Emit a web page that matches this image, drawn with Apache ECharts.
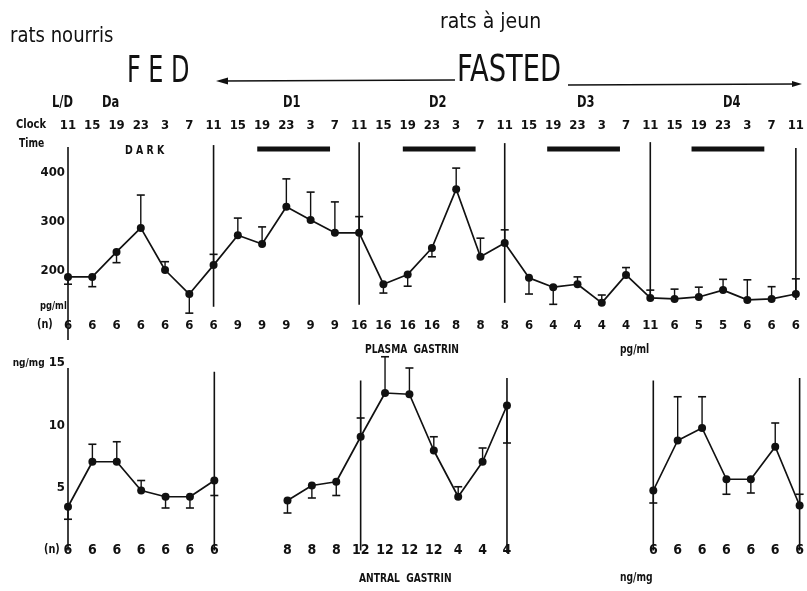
<!DOCTYPE html>
<html>
<head>
<meta charset="utf-8">
<script src="https://cdn.jsdelivr.net/npm/echarts@6/dist/echarts.min.js"></script>
<style>
  html, body { margin: 0; padding: 0; background: #fff; }
  #chart { width: 807px; height: 591px; }
</style>
</head>
<body>
<div id="chart"></div>
<script>
// Sampling clock (hours), every 4 h over the fed day and four fasting days
const clockLabels = ['11','15','19','23','3','7','11','15','19','23','3','7','11','15','19','23','3','7',
                     '11','15','19','23','3','7','11','15','19','23','3','7','11'];

// Plasma gastrin, pg/ml (mean) and one-sided SEM (negative = drawn below the mean)
const plasmaGastrin = [188,188,239,288,202,153,212,273,255,331,304,278,278,173,193,247,367,229,257,
                       186,167,173,135,192,145,143,147,161,141,143,153];
const plasmaSem     = [-15,-20,-22,67,17,-39,22,35,35,57,57,63,33,-18,-24,-18,43,38,27,
                       -33,-35,15,16,15,16,20,20,22,41,25,31];
const plasmaN       = [6,6,6,6,6,6,6,9,9,9,9,9,16,16,16,16,8,8,8,6,4,4,4,4,11,6,5,5,6,6,6];

// Antral gastrin, ng/mg (null = not sampled)
const antralGastrin = [3.5,7.1,7.1,4.8,4.3,4.3,5.6,null,null,4.0,5.2,5.5,9.1,12.6,12.5,8.0,4.3,7.1,11.6,
                       null,null,null,null,null,4.8,8.8,9.8,5.7,5.7,8.3,3.6];
const antralSem     = [-1.0,1.4,1.6,0.8,-0.9,-0.9,-1.2,null,null,-1.0,-1.0,-1.1,1.5,2.9,2.1,1.1,0.8,1.1,-3.0,
                       null,null,null,null,null,-1.0,3.5,2.5,-1.2,-1.1,1.9,0.9];
const antralN       = [6,6,6,6,6,6,6,null,null,8,8,8,12,12,12,12,4,4,4,null,null,null,null,null,6,6,6,6,6,6,6];

// Day boundaries (sample index) with vertical extent of each divider
const plasmaDividers = [[0,453,59],[6,457,127],[12,463,131],[18,461,135],[24,463,145],[30,451,141]];
const antralDividers = [[0,14.6,0],[6,14.3,0],[12,13.6,0],[18,13.8,-0.2],[24,13.6,0],[30,13.8,0]];

// Dark phases (sample index range) on the fasting days
const darkPhases = [[7.8,10.8],[13.8,16.8],[19.75,22.75],[25.7,28.7]];

const FONT = "'Liberation Sans Narrow','DejaVu Sans Condensed','Roboto Condensed',sans-serif";
const INK = '#111';

const chart = echarts.init(document.getElementById('chart'), null, { renderer: 'canvas' });

function errorBar(params, api) {
  const x = api.value(0), y = api.value(1), e = api.value(2);
  const p0 = api.coord([x, y]);
  const p1 = api.coord([x, y + e]);
  return {
    type: 'group',
    children: [
      { type: 'line', shape: { x1: p0[0], y1: p0[1], x2: p1[0], y2: p1[1] }, style: { stroke: INK, lineWidth: 1.4 } },
      { type: 'line', shape: { x1: p1[0] - 4, y1: p1[1], x2: p1[0] + 4, y2: p1[1] }, style: { stroke: INK, lineWidth: 1.6 } }
    ]
  };
}

function divider(params, api) {
  const a = api.coord([api.value(0), api.value(1)]);
  const b = api.coord([api.value(0), api.value(2)]);
  return { type: 'line', shape: { x1: a[0], y1: a[1], x2: b[0], y2: b[1] }, style: { stroke: INK, lineWidth: 1.6 } };
}

function darkBar(params, api) {
  const a = api.coord([api.value(0), 449]);
  const b = api.coord([api.value(1), 449]);
  return { type: 'rect', shape: { x: a[0], y: a[1] - 2.5, width: b[0] - a[0], height: 5 }, style: { fill: INK } };
}

const pair = (arr) => arr.map((v, i) => [i, v == null ? '-' : v]);
const errRows = (vals, sems) => vals.map((v, i) => [i, v, sems[i]]).filter(r => r[1] != null && r[2] != null);

const labelBase = { color: INK, fontFamily: FONT, fontWeight: 'bold', fontSize: 13 };

// text element; sx narrows the glyphs horizontally from the anchor point
function txt(x, y, s, font, sx) {
  return {
    type: 'text', x: x, y: y, scaleX: sx || 1, originX: 0, originY: 0,
    style: { text: s, fill: INK, font: font, textVerticalAlign: 'middle' }
  };
}
const B = (size) => 'bold ' + size + 'px ' + FONT;
const hxFont = "22px 'DejaVu Sans', sans-serif";

chart.setOption({
  animation: false,
  backgroundColor: '#fff',
  grid: [
    { left: 68, width: 736, top: 124, height: 196 },
    { left: 68, width: 736, top: 363, height: 187.5 }
  ],
  xAxis: [
    { gridIndex: 0, type: 'value', min: 0, max: 30, interval: 1, position: 'bottom',
      axisLine: { show: false }, axisTick: { show: false }, splitLine: { show: false },
      axisLabel: Object.assign({}, labelBase, { margin: -1, formatter: v => String(plasmaN[v]) }) },
    { gridIndex: 0, type: 'value', min: 0, max: 30, interval: 1, position: 'top',
      axisLine: { show: false }, axisTick: { show: false }, splitLine: { show: false },
      axisLabel: Object.assign({}, labelBase, { margin: -8, formatter: v => clockLabels[v] }) },
    { gridIndex: 1, type: 'value', min: 0, max: 30, interval: 1, position: 'bottom',
      axisLine: { show: false }, axisTick: { show: false }, splitLine: { show: false },
      axisLabel: Object.assign({}, labelBase, { fontSize: 14, margin: -7,
        formatter: v => antralN[v] == null ? '' : String(antralN[v]) }) }
  ],
  yAxis: [
    { gridIndex: 0, type: 'value', min: 100, max: 500, interval: 100,
      axisLine: { show: false }, axisTick: { show: false }, splitLine: { show: false },
      axisLabel: Object.assign({}, labelBase, { margin: 3,
        formatter: v => (v >= 200 && v <= 400) ? String(v) : '' }) },
    { gridIndex: 1, type: 'value', min: 0, max: 15, interval: 5,
      axisLine: { show: false }, axisTick: { show: false }, splitLine: { show: false },
      axisLabel: Object.assign({}, labelBase, { margin: 3,
        formatter: v => v === 15 ? '{u|ng/mg} 15' : (v > 0 ? String(v) : ''),
        rich: { u: { fontFamily: FONT, fontWeight: 'bold', fontSize: 10, color: INK } } }) }
  ],
  series: [
    { type: 'custom', xAxisIndex: 0, yAxisIndex: 0, clip: false, renderItem: divider,
      encode: { x: 0, y: [1, 2] }, data: plasmaDividers, z: 1 },
    { type: 'custom', xAxisIndex: 2, yAxisIndex: 1, clip: false, renderItem: divider,
      encode: { x: 0, y: [1, 2] }, data: antralDividers, z: 1 },
    { type: 'custom', xAxisIndex: 0, yAxisIndex: 0, clip: false, renderItem: darkBar,
      encode: { x: [0, 1] }, data: darkPhases, z: 1 },
    { type: 'custom', xAxisIndex: 0, yAxisIndex: 0, clip: false, renderItem: errorBar,
      encode: { x: 0, y: 1 }, data: errRows(plasmaGastrin, plasmaSem), z: 2 },
    { type: 'custom', xAxisIndex: 2, yAxisIndex: 1, clip: false, renderItem: errorBar,
      encode: { x: 0, y: 1 }, data: errRows(antralGastrin, antralSem), z: 2 },
    { name: 'PLASMA GASTRIN', type: 'line', xAxisIndex: 0, yAxisIndex: 0, data: pair(plasmaGastrin),
      symbol: 'circle', symbolSize: 8, itemStyle: { color: INK }, lineStyle: { color: INK, width: 1.7 },
      clip: false, z: 3 },
    { name: 'ANTRAL GASTRIN', type: 'line', xAxisIndex: 2, yAxisIndex: 1, data: pair(antralGastrin),
      connectNulls: false, symbol: 'circle', symbolSize: 8, itemStyle: { color: INK },
      lineStyle: { color: INK, width: 1.7 }, clip: false, z: 3 }
  ],
  graphic: [
    // handwritten French captions
    txt(10, 36, 'rats nourris', hxFont, 0.82),
    txt(440, 22, 'rats à jeun', hxFont, 0.86),
    // FED / FASTED header with arrows
    txt(127, 72, 'F E D', '38px ' + FONT, 0.7),
    txt(457, 71, 'FASTED', '38px ' + FONT, 0.8),
    { type: 'line', shape: { x1: 222, y1: 81, x2: 455, y2: 80 }, style: { stroke: INK, lineWidth: 1.3 } },
    { type: 'polygon', shape: { points: [[216, 81], [228, 77.5], [228, 84.5]] }, style: { fill: INK } },
    { type: 'line', shape: { x1: 568, y1: 85, x2: 796, y2: 84 }, style: { stroke: INK, lineWidth: 1.3 } },
    { type: 'polygon', shape: { points: [[802, 84], [792, 81], [792, 87]] }, style: { fill: INK } },
    // day row
    txt(52, 103, 'L/D', B(15), 0.85),
    txt(102, 103, 'Da', B(15), 0.85),
    txt(283, 103, 'D1', B(15), 0.85),
    txt(429, 103, 'D2', B(15), 0.85),
    txt(577, 103, 'D3', B(15), 0.85),
    txt(723, 103, 'D4', B(15), 0.85),
    txt(16, 125, 'Clock', B(13), 0.85),
    txt(19, 144, 'Time', B(12), 0.85),
    txt(125, 151, 'D A R K', B(13), 0.8),
    // units and panel titles
    txt(40, 306, 'pg/ml', B(11), 0.85),
    txt(37, 325, '(n)', B(12), 0.9),
    txt(44, 550, '(n)', B(12), 0.9),
    txt(365, 350, 'PLASMA  GASTRIN', B(13), 0.78),
    txt(620, 350, 'pg/ml', B(12), 0.85),
    txt(359, 579, 'ANTRAL  GASTRIN', B(13), 0.78),
    txt(620, 578, 'ng/mg', B(12), 0.85)
  ]
});
</script>
</body>
</html>
